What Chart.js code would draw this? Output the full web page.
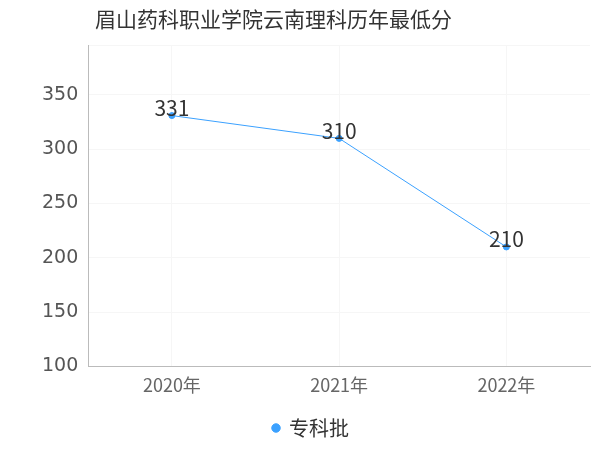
<!DOCTYPE html>
<html lang="zh">
<head>
<meta charset="UTF-8">
<script src="https://cdn.jsdelivr.net/npm/chart.js"></script>
<style>body{margin:0;background:#fff}#wrap{width:600px;height:450px}</style>
</head>
<body>
<div id="wrap"><canvas id="c"></canvas></div>
<script>
const years = ['2020年', '2021年', '2022年'];
const scores = [331, 310, 210];
const seriesName = '专科批';
const titleText = '眉山药科职业学院云南理科历年最低分';

const labelPlugin = {
  id: 'pointLabels',
  afterDatasetsDraw(chart) {
    const ctx = chart.ctx;
    ctx.save();
    ctx.font = '21px "Noto Sans CJK SC", "DejaVu Sans"';
    ctx.fillStyle = '#333';
    ctx.textAlign = 'center';
    ctx.textBaseline = 'bottom';
    chart.getDatasetMeta(0).data.forEach((pt, i) => {
      ctx.fillText(scores[i], pt.x, pt.y + 3);
    });
    ctx.font = '21px "Noto Sans CJK SC"';
    ctx.textAlign = 'left';
    ctx.textBaseline = 'middle';
    ctx.fillText(titleText, 95, 19);
    ctx.restore();
  }
};

new Chart(document.getElementById('c'), {
  type: 'line',
  data: {
    labels: years,
    datasets: [{
      label: seriesName,
      data: scores,
      borderColor: '#3ba1ff',
      backgroundColor: '#3ba1ff',
      borderWidth: 1,
      pointRadius: 3,
      pointStyle: 'circle'
    }]
  },
  options: {
    responsive: true,
    maintainAspectRatio: false,
    animation: false,
    layout: { padding: { left: 32, right: 10, top: 45, bottom: 2 } },
    plugins: {
      title: { display: false },
      legend: {
        position: 'bottom',
        labels: {
          usePointStyle: true, pointStyle: 'circle', boxWidth: 6, boxHeight: 6,
          color: '#333', font: { size: 20, family: '"Noto Sans CJK SC"' }, padding: 14
        }
      },
      tooltip: { enabled: false }
    },
    scales: {
      x: {
        offset: true,
        grid: { color: '#f6f6f6', drawTicks: false },
        border: { color: '#bbb' },
        ticks: { color: '#666', font: { size: 18, family: '"Noto Sans CJK SC"' }, padding: 8 }
      },
      y: {
        min: 100, max: 396,
        grid: { color: '#f6f6f6', drawTicks: false },
        border: { color: '#bbb' },
        ticks: {
          stepSize: 50, color: '#555', padding: 10,
          font: { size: 19, family: '"DejaVu Sans"' },
          callback: v => v % 50 === 0 ? v : ''
        }
      }
    }
  },
  plugins: [labelPlugin]
});
</script>
</body>
</html>
